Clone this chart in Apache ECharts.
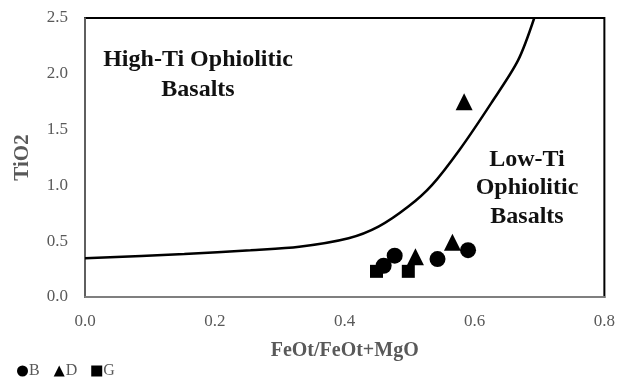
<!DOCTYPE html>
<html>
<head>
<meta charset="utf-8">
<script src="https://cdn.jsdelivr.net/npm/echarts@6/dist/echarts.min.js"></script>
<style>
  html, body { margin: 0; padding: 0; background: #fff; }
  #chart { width: 618px; height: 387px; }
</style>
</head>
<body>
<div id="chart"></div>
<script>
// Discrimination boundary between High-Ti and Low-Ti ophiolitic basalts
const boundaryX = [0, 0.153, 0.255, 0.33, 0.406, 0.452, 0.498, 0.534, 0.577, 0.626, 0.667, 0.692];
const boundaryY = [0.347, 0.385, 0.42, 0.45, 0.526, 0.63, 0.81, 1.0, 1.32, 1.74, 2.12, 2.5];

// Sample groups: FeOt/(FeOt+MgO) and TiO2
const groupB_x = [0.46, 0.477, 0.543, 0.59];
const groupB_y = [0.28, 0.37, 0.34, 0.42];
const groupD_x = [0.509, 0.566, 0.584];
const groupD_y = [0.36, 0.49, 1.75];
const groupG_x = [0.449, 0.498];
const groupG_y = [0.23, 0.23];

const xTicks = { min: 0, max: 0.8, step: 0.2 };
const yTicks = { min: 0, max: 2.5, step: 0.5 };

const zip = (xs, ys) => xs.map((x, i) => [x, ys[i]]);

const serif = '"Liberation Serif", "DejaVu Serif", serif';
const grey = '#595959';
const fieldFont = 'bold 24px ' + serif;

const chart = echarts.init(document.getElementById('chart'));
chart.setOption({
  animation: false,
  backgroundColor: '#fff',
  grid: { left: 85, top: 18, right: 11, bottom: 90, show: true, borderColor: '#000', borderWidth: 2 },
  xAxis: {
    type: 'value', min: xTicks.min, max: xTicks.max, interval: xTicks.step,
    name: 'FeOt/FeOt+MgO', nameLocation: 'middle', nameGap: 44,
    nameTextStyle: { fontFamily: serif, fontWeight: 'bold', fontSize: 20, color: grey },
    axisLine: { show: true, lineStyle: { color: '#7f7f7f', width: 2 } },
    axisTick: { show: false },
    splitLine: { show: false },
    axisLabel: { margin: 16, fontFamily: serif, fontSize: 17, color: grey, formatter: v => v.toFixed(1) }
  },
  yAxis: {
    type: 'value', min: yTicks.min, max: yTicks.max, interval: yTicks.step,
    name: 'TiO2', nameLocation: 'middle', nameGap: 52, nameRotate: 90,
    nameTextStyle: { fontFamily: serif, fontWeight: 'bold', fontSize: 21, color: grey },
    axisLine: { show: true, lineStyle: { color: '#7f7f7f', width: 1.5 } },
    axisTick: { show: false },
    splitLine: { show: false },
    axisLabel: { margin: 17, fontFamily: serif, fontSize: 17, color: grey, formatter: v => v.toFixed(1) }
  },
  legend: {
    left: 12, bottom: 3, itemWidth: 11, itemHeight: 11, itemGap: 14,
    textStyle: { fontFamily: serif, fontSize: 16, color: grey, padding: [0, 0, 0, -4] },
    data: [
      { name: 'B', icon: 'circle' },
      { name: 'D', icon: 'triangle' },
      { name: 'G', icon: 'rect' }
    ]
  },
  graphic: [
    { type: 'text', x: 198, y: 60, style: { text: 'High-Ti Ophiolitic', font: fieldFont, fill: '#111', align: 'center', verticalAlign: 'middle' } },
    { type: 'text', x: 198, y: 90, style: { text: 'Basalts', font: fieldFont, fill: '#111', align: 'center', verticalAlign: 'middle' } },
    { type: 'text', x: 527, y: 160, style: { text: 'Low-Ti', font: fieldFont, fill: '#111', align: 'center', verticalAlign: 'middle' } },
    { type: 'text', x: 527, y: 188, style: { text: 'Ophiolitic', font: fieldFont, fill: '#111', align: 'center', verticalAlign: 'middle' } },
    { type: 'text', x: 527, y: 217, style: { text: 'Basalts', font: fieldFont, fill: '#111', align: 'center', verticalAlign: 'middle' } }
  ],
  series: [
    {
      name: 'boundary', type: 'line', smooth: 0.3, showSymbol: false, silent: true,
      lineStyle: { color: '#000', width: 2.5 },
      data: zip(boundaryX, boundaryY), z: 1
    },
    {
      name: 'B', type: 'scatter', symbol: 'circle', symbolSize: 16,
      itemStyle: { color: '#000', opacity: 1 }, data: zip(groupB_x, groupB_y), z: 3
    },
    {
      name: 'D', type: 'scatter', symbol: 'triangle', symbolSize: 17,
      itemStyle: { color: '#000', opacity: 1 }, data: zip(groupD_x, groupD_y), z: 3
    },
    {
      name: 'G', type: 'scatter', symbol: 'rect', symbolSize: 13,
      itemStyle: { color: '#000', opacity: 1 }, data: zip(groupG_x, groupG_y), z: 3
    }
  ]
});
</script>
</body>
</html>
